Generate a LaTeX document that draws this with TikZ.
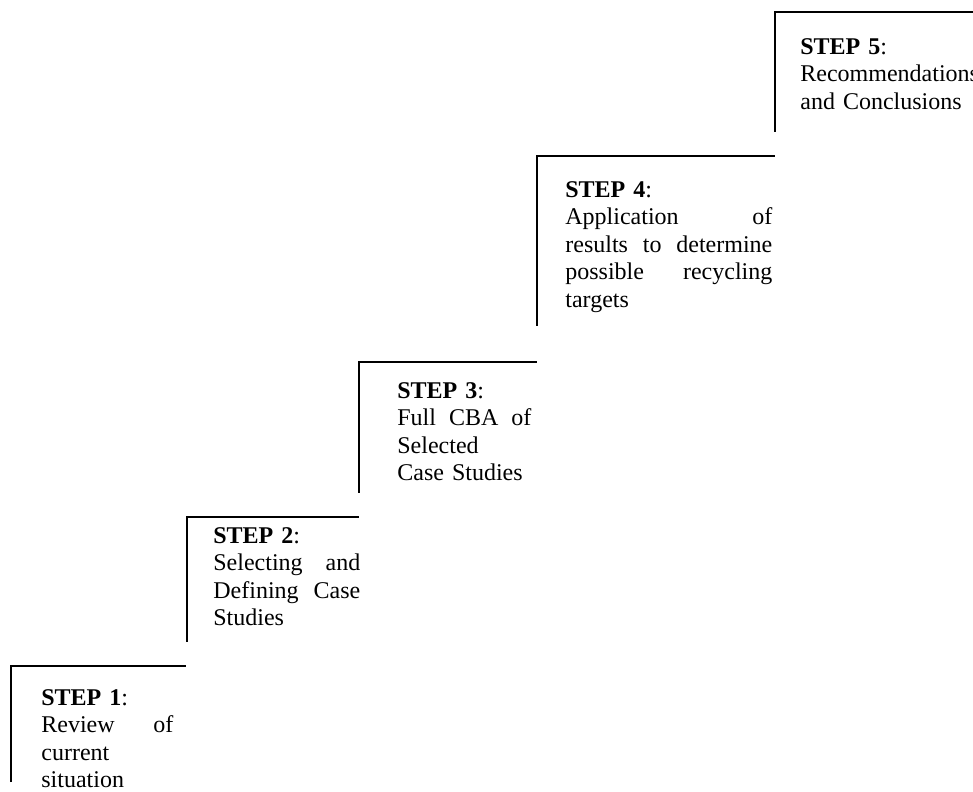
\documentclass[tikz,border=0pt]{standalone}
\usepackage{fontspec}
\setmainfont{Liberation Serif}

\begin{document}
\begin{tikzpicture}[
	stepbox/.style={anchor=north west, inner sep=0pt, align=left, font={\fontsize{13.66pt}{15.65pt}\selectfont}},
	stepedge/.style={line width=0.9pt}]

	\useasboundingbox (0, 0) rectangle (19.46, 15.82);

		\draw[stepedge](0.22, 0.18) |- (3.72, 2.5);
		\draw[stepedge](3.74, 2.98) |- (7.18, 5.48);
		\draw[stepedge](7.18, 5.96) |- (10.74, 8.58);
		\draw[stepedge](10.74, 9.3) |- (15.5, 12.7);
		\draw[stepedge](15.5, 13.18) |- (19.6, 15.58);


		\node[stepbox, text width=2.64cm] (stepone) at(0.82, 2.105){\strut\textbf{STEP 1}:\\Review\hfill of\\current\\situation};
		\node[stepbox, text width=2.94cm] (steptwo) at(4.26, 5.345){\strut\textbf{STEP 2}:\\Selecting\hfill and\\Defining\hfill Case\\Studies};
		\node[stepbox, text width=2.68cm] (stepthree) at(7.94, 8.245){\strut\textbf{STEP 3}:\\Full\hfill CBA\hfill of\\Selected\\Case Studies};
		\node[stepbox, text width=4.14cm] (stepfour) at(11.3, 12.265){\strut\textbf{STEP 4}:\\Application\hfill of\\results\hfill to\hfill determine\\possible\hfill recycling\\targets};
		\node[stepbox, text width=4.5cm] (stepfive) at(16.0, 15.125){\strut\textbf{STEP 5}:\\Recommendations\\and Conclusions};

	\end{tikzpicture}
\end{document}
